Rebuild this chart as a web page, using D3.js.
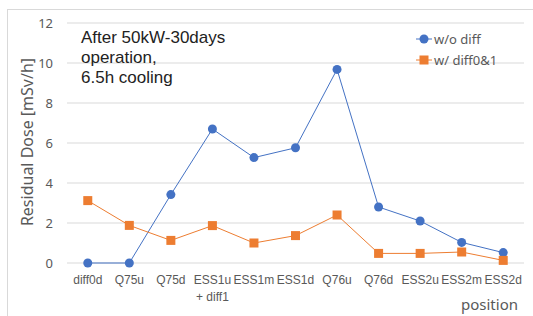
<!DOCTYPE html>
<html><head><meta charset="utf-8">
<script src="https://cdn.jsdelivr.net/npm/d3@7/dist/d3.min.js"></script>
<style>body{margin:0;background:#fff}svg{display:block;font-family:"Noto Sans","Open Sans",sans-serif}</style>
</head><body><svg id="c" width="533" height="316"></svg>
<script>
const categories = ["diff0d","Q75u","Q75d","ESS1u\n+ diff1","ESS1m","ESS1d","Q76u","Q76d","ESS2u","ESS2m","ESS2d"];
const woDiff = [0,0,3.42,6.7,5.27,5.76,9.68,2.8,2.1,1.03,0.52];
const wDiff01 = [3.12,1.88,1.13,1.87,1.0,1.37,2.4,0.48,0.48,0.55,0.13];
const yTicks = [0,2,4,6,8,10,12];
const seriesNames = ["w/o diff","w/ diff0&1"];

const svg = d3.select("#c");
const W=533,H=316;
svg.append("rect").attr("x",7.5).attr("y",9.5).attr("width",W).attr("height",H).attr("fill","#fff").attr("stroke","#d9d9d9");

const x = d3.scaleBand().domain(categories).range([67,524]);
const y = d3.scaleLinear().domain([0,12]).range([263,23]);

svg.append("g").selectAll("line").data(yTicks).join("line")
  .attr("x1",67).attr("x2",524).attr("y1",d=>y(d)).attr("y2",d=>y(d))
  .attr("stroke","#d9d9d9").attr("stroke-width",1);

const yAxis = svg.append("g").attr("transform","translate(67,0)")
  .call(d3.axisLeft(y).tickValues(yTicks).tickSize(0).tickPadding(14));
yAxis.select(".domain").remove();
yAxis.selectAll("text").attr("fill","#595959").style("font-size","13px").style("font-family","'Noto Sans',sans-serif");

const xAxis = svg.append("g").attr("transform","translate(0,263)")
  .call(d3.axisBottom(x).tickSize(0).tickFormat(""));
xAxis.select(".domain").remove();
xAxis.selectAll(".tick").each(function(d){
  const lines = d.split("\n");
  const t = d3.select(this).append("text").attr("fill","#595959").attr("text-anchor","middle")
    .style("font-size","12px").attr("y",21);
  lines.forEach((l,i)=>t.append("tspan").attr("x",0).attr("dy",i?17:0).text(l));
});

const cx = d=>x(d)+x.bandwidth()/2;
const colors=["#4472C4","#ED7D31"];
[woDiff,wDiff01].forEach((vals,si)=>{
  const pts = categories.map((c,i)=>[cx(c),y(vals[i])]);
  svg.append("path").attr("d",d3.line()(pts)).attr("fill","none").attr("stroke",colors[si]).attr("stroke-width",1);
  if(si===0){
    svg.append("g").selectAll("circle").data(pts).join("circle").attr("cx",d=>d[0]).attr("cy",d=>d[1]).attr("r",4.5).attr("fill",colors[0]);
  } else {
    svg.append("g").selectAll("rect").data(pts).join("rect").attr("x",d=>d[0]-4.5).attr("y",d=>d[1]-4.5).attr("width",9).attr("height",9).attr("fill",colors[1]);
  }
});

svg.append("text").attr("transform","translate(33,142) rotate(-90)").attr("text-anchor","middle")
  .attr("fill","#595959").style("font-size","16px").text("Residual Dose [mSv/h]");
svg.append("text").attr("x",518).attr("y",310).attr("text-anchor","end").attr("fill","#595959").style("font-size","15px").text("position");

["After 50kW-30days","operation,","6.5h cooling"].forEach((t,i)=>{
  svg.append("text").attr("x",81).attr("y",43+i*20).attr("fill","#222")
    .style("font-family","'Liberation Sans',Arial,sans-serif").style("font-size","17px").text(t);
});

seriesNames.forEach((n,i)=>{
  const ly = 39+i*21;
  svg.append("line").attr("x1",416).attr("x2",432).attr("y1",ly).attr("y2",ly).attr("stroke",colors[i]).attr("stroke-width",1);
  if(i===0) svg.append("circle").attr("cx",424).attr("cy",ly).attr("r",4.5).attr("fill",colors[0]);
  else svg.append("rect").attr("x",419.5).attr("y",ly-4.5).attr("width",9).attr("height",9).attr("fill",colors[1]);
  svg.append("text").attr("x",434).attr("y",ly+5).attr("fill","#595959").style("font-size","13px").text(n);
});
</script></body></html>
